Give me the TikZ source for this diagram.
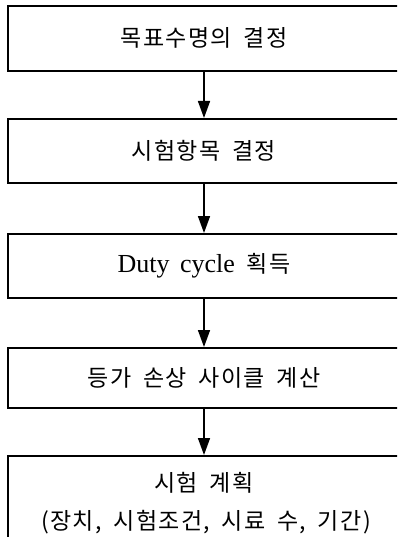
\documentclass[tikz,border=0pt]{standalone}
\usepackage{fontspec}
\setmainfont{Liberation Serif}
\newfontfamily\kr{Noto Sans CJK KR}[WordSpace={1.8}, LetterSpace=6]
\usetikzlibrary{arrows.meta}
\tikzset{
  stepbox/.style={draw=black, line width=1.6pt, minimum width=392pt, inner sep=0pt, anchor=north, font=\kr\fontsize{23}{30}\selectfont, align=center},
  steptext/.style={font=\kr\fontsize{23}{30}\selectfont, inner sep=0pt},
  flow/.style={line width=1.6pt, -{Triangle[length=17pt,width=12pt]}}
}
\begin{document}
\begin{tikzpicture}[x=1pt,y=-1pt]
\useasboundingbox (0,0) rectangle (397,537);
\clip (0,0) rectangle (397,537);
\node[stepbox, minimum height=65pt] (b1) at (204,5) {목표수명의 결정};
\node[stepbox, minimum height=64pt] (b2) at (204,118) {시험항목 결정};
\node[stepbox, minimum height=64pt] (b3) at (204,233) {{\rmfamily\fontsize{26}{30}\selectfont Duty\hspace{4pt} cycle} 획득};
\node[stepbox, minimum height=60pt] (b4) at (204,347) {등가 손상 사이클 계산};
\node[stepbox, minimum height=120pt] (b5) at (204,455) {};
\node[steptext] (t5a) at (204,483) {시험 계획};
\node[steptext] (t5b) at (206,522) {(장치, 시험조건, 시료 수, 기간)};
\draw[flow] (b1.south) -- (b2.north);
\draw[flow] (b2.south) -- (b3.north);
\draw[flow] (b3.south) -- (b4.north);
\draw[flow] (b4.south) -- (b5.north);
\end{tikzpicture}
\end{document}
